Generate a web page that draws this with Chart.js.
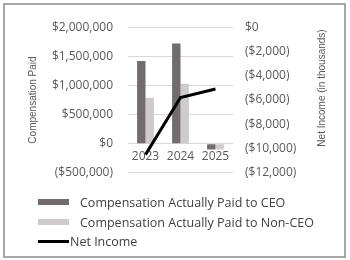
<!DOCTYPE html>
<html>
<head>
<meta charset="utf-8">
<script src="https://cdn.jsdelivr.net/npm/chart.js@4.4.1/dist/chart.umd.min.js"></script>
<style>
  body { margin: 0; background: #fff; }
  #frame { position: absolute; left: 3px; top: 3px; width: 339px; height: 251px; border: 2px solid #a6a6a6; }
  #chart { position: absolute; left: 0; top: 0; }
  .row { position: absolute; left: 33px; height: 16px; line-height: 16px; display: flex; align-items: center;
         font: 12.5px 'Open Sans'; color: #404040; white-space: nowrap; }
  .swatch { display: inline-block; width: 31px; }
</style>
</head>
<body>
<div id="frame">
  <canvas id="chart" width="339" height="190"></canvas>
  <div id="legend"></div>
</div>
<script>
const years = ["2023", "2024", "2025"];
const ceoPaid = [1420000, 1720000, -100000];
const nonCeoPaid = [790000, 1030000, -100000];
const netIncome = [-10500, -5800, -5100];

const leftTitle = "Compensation Paid";
const rightTitle = "Net Income (in thousands)";
const seriesNames = ["Compensation Actually Paid to CEO", "Compensation Actually Paid to Non-CEO", "Net Income"];

const ceoColor = "#736c6e";
const nonCeoColor = "#cfcbcc";
const tickColor = "#595959";

function money(v) {
  const s = "$" + Math.abs(v).toLocaleString("en-US");
  return v < 0 ? "(" + s + ")" : s;
}

// right axis title reads bottom-to-top, so draw it here
const rightTitlePlugin = {
  id: "rightTitle",
  afterDraw(chart) {
    const ctx = chart.ctx;
    ctx.save();
    ctx.translate(chart.scales.y1.right - 22, 83);
    ctx.rotate(-Math.PI / 2);
    ctx.font = "10px 'Liberation Sans'";
    ctx.fillStyle = tickColor;
    ctx.textAlign = "center";
    ctx.textBaseline = "middle";
    ctx.fillText(rightTitle, 0, 0);
    ctx.restore();
  }
};

Chart.defaults.font.family = "'Open Sans'";
Chart.defaults.font.size = 12;
Chart.defaults.color = tickColor;

const ctx = document.getElementById("chart").getContext("2d");
const chart = new Chart(ctx, {
  type: "bar",
  data: {
    labels: years,
    datasets: [
      {
        label: seriesNames[0],
        data: ceoPaid,
        backgroundColor: ceoColor,
        yAxisID: "y",
        order: 2,
      },
      {
        label: seriesNames[1],
        data: nonCeoPaid,
        backgroundColor: nonCeoColor,
        yAxisID: "y",
        order: 2,
      },
      {
        type: "line",
        label: seriesNames[2],
        data: netIncome,
        borderColor: "#000000",
        borderWidth: 3,
        pointRadius: 0,
        yAxisID: "y1",
        order: 1,
      },
    ],
  },
  options: {
    responsive: false,
    animation: false,
    devicePixelRatio: 1,
    categoryPercentage: 0.48,
    barPercentage: 1.0,
    layout: { padding: { top: 9, bottom: 17, left: 0, right: 0 } },
    plugins: { legend: { display: false }, tooltip: { enabled: false } },
    scales: {
      x: {
        position: { y: 0 },
        grid: { display: false, drawTicks: false },
        border: { display: false },
        ticks: { padding: 6, maxRotation: 0 },
      },
      y: {
        position: "left",
        min: -500000,
        max: 2000000,
        ticks: { stepSize: 500000, padding: 15, callback: money },
        grid: { color: "#d9d9d9", drawTicks: false },
        border: { display: false },
        title: {
          display: true,
          text: leftTitle,
          font: { family: "'Liberation Sans'", size: 10 },
          padding: { top: 22, bottom: 0 },
        },
        afterFit: (s) => { s.width = 123; },
      },
      y1: {
        position: "right",
        min: -12000,
        max: 0,
        ticks: { stepSize: 2000, padding: 12, callback: money },
        grid: { display: false, drawTicks: false },
        border: { display: false },
        afterFit: (s) => { s.width = 111; },
      },
    },
  },
  plugins: [rightTitlePlugin],
});

// legend, one entry per row
const legend = document.getElementById("legend");
const rowTops = [189, 209, 228];
chart.data.datasets.forEach((ds, i) => {
  const row = document.createElement("div");
  row.className = "row";
  row.style.top = rowTops[i] + "px";
  const sw = document.createElement("span");
  sw.className = "swatch";
  if (ds.type === "line") {
    sw.style.height = "3px";
    sw.style.background = ds.borderColor;
    sw.style.marginRight = "1px";
  } else {
    sw.style.height = "6px";
    sw.style.background = ds.backgroundColor;
    sw.style.marginRight = "11px";
  }
  row.appendChild(sw);
  row.appendChild(document.createTextNode(ds.label));
  legend.appendChild(row);
});
</script>
</body>
</html>
